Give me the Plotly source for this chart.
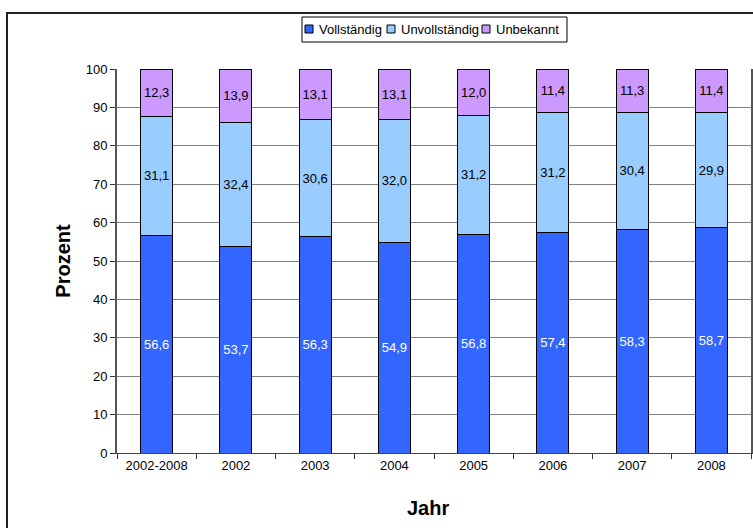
import plotly.graph_objects as go

categories = ["2002-2008", "2002", "2003", "2004", "2005", "2006", "2007", "2008"]
vollstaendig = [56.6, 53.7, 56.3, 54.9, 56.8, 57.4, 58.3, 58.7]
unvollstaendig = [31.1, 32.4, 30.6, 32.0, 31.2, 31.2, 30.4, 29.9]
unbekannt = [12.3, 13.9, 13.1, 13.1, 12.0, 11.4, 11.3, 11.4]

series = [
    ("Vollständig", vollstaendig, "#3366FF", "white"),
    ("Unvollständig", unvollstaendig, "#99CCFF", "black"),
    ("Unbekannt", unbekannt, "#CC99FF", "black"),
]

FONT = "Liberation Sans, Arial"
W, H = 753, 528
L, R, T, B = 117, 2, 69, 75
pw, ph = W - L - R, H - T - B


def px(x):
    return (x - L) / pw


def py(y):
    return 1 - (y - T) / ph


fig = go.Figure()
for name, vals, color, tcol in series:
    fig.add_trace(go.Bar(
        name=name, x=categories, y=vals,
        marker=dict(color=color, line=dict(color="black", width=1)),
        texttemplate="%{y:.1f}", textposition="inside", insidetextanchor="middle",
        textangle=0, textfont=dict(color=tcol, size=13, family=FONT),
        hoverinfo="skip", showlegend=False,
    ))

# legend box (drawn manually for compact Excel-like layout)
shapes = [
    dict(type="rect", xref="paper", yref="paper",
         x0=px(7), x1=px(W + 20), y0=py(H + 20), y1=py(13),
         line=dict(color="#222222", width=2), fillcolor="rgba(0,0,0,0)", layer="below"),
    dict(type="rect", xref="paper", yref="paper",
         x0=px(302), x1=px(567), y0=py(42), y1=py(17),
         line=dict(color="black", width=1), fillcolor="white"),
]
annotations = []
leg_sq_x = [305, 387, 482]
for (name, vals, color, tcol), sx in zip(series, leg_sq_x):
    shapes.append(dict(type="rect", xref="paper", yref="paper",
                       x0=px(sx), x1=px(sx + 8), y0=py(33), y1=py(25),
                       line=dict(color="black", width=1), fillcolor=color))
    annotations.append(dict(text=name, xref="paper", yref="paper",
                            x=px(sx + 12), y=py(29.5), xanchor="left", yanchor="middle",
                            showarrow=False, font=dict(size=13, family=FONT, color="black")))

annotations.append(dict(text="<b>Jahr</b>", xref="paper", yref="paper",
                        x=px(428), y=py(508), xanchor="center", yanchor="middle",
                        showarrow=False, font=dict(size=20, family=FONT, color="black")))

fig.update_layout(
    width=W, height=H,
    barmode="stack", bargap=0.595,
    separators=",.",
    uniformtext=dict(minsize=13, mode="show"),
    margin=dict(l=L, r=R, t=T, b=B, autoexpand=False),
    paper_bgcolor="white", plot_bgcolor="white",
    font=dict(family=FONT, size=13, color="black"),
    showlegend=False,
    xaxis=dict(
        showline=True, linecolor="#444444", linewidth=1,
        ticks="outside", tickson="boundaries", ticklen=5, tickcolor="#333333",
        showgrid=False,
    ),
    yaxis=dict(
        title=dict(text="<b>Prozent</b>", font=dict(size=20), standoff=10),
        range=[0, 100], dtick=10,
        showline=True, linecolor="#555555", linewidth=2, mirror=True,
        ticks="outside", ticklen=5, tickcolor="#333333",
        showgrid=True, gridcolor="#808080", gridwidth=1,
        zeroline=False,
    ),
    shapes=shapes,
    annotations=annotations,
)

fig.write_html("out.html")
